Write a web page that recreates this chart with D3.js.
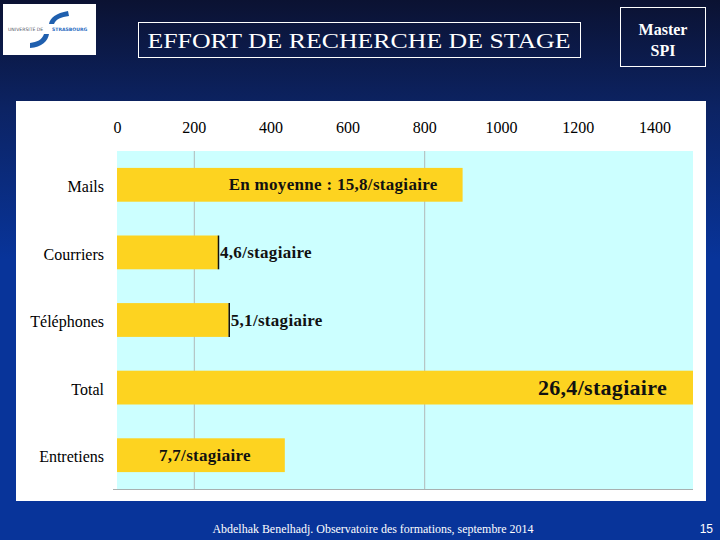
<!DOCTYPE html>
<html>
<head>
<meta charset="utf-8">
<script src="https://cdn.jsdelivr.net/npm/d3@7"></script>
<style>
  html, body { margin: 0; padding: 0; background: #08349a; }
  svg { display: block; }
</style>
</head>
<body>
<svg id="slide" width="720" height="540"></svg>
<script>
  // chart values
  var categories = ["Mails", "Courriers", "Téléphones", "Total", "Entretiens"];
  var values = [900, 263, 291, 1505, 437];
  var barLabels = ["En moyenne : 15,8/stagiaire", "4,6/stagiaire", "5,1/stagiaire", "26,4/stagiaire", "7,7/stagiaire"];
  var tickValues = [0, 200, 400, 600, 800, 1000, 1200, 1400];
  var gridValues = [200, 800];

  var svg = d3.select("#slide");
  var W = 720, H = 540;
  var serif = "'Liberation Serif', 'Times New Roman', serif";

  // background gradient
  var defs = svg.append("defs");
  var grad = defs.append("linearGradient")
    .attr("id", "bg").attr("x1", 0).attr("y1", 0).attr("x2", 0).attr("y2", 1);
  grad.append("stop").attr("offset", "0%").attr("stop-color", "#0b1232");
  grad.append("stop").attr("offset", "20%").attr("stop-color", "#0c2363");
  grad.append("stop").attr("offset", "48%").attr("stop-color", "#08349a");
  grad.append("stop").attr("offset", "100%").attr("stop-color", "#08349a");
  svg.append("rect").attr("width", W).attr("height", H).attr("fill", "url(#bg)");

  // logo
  var logo = svg.append("g");
  logo.append("rect").attr("x", 3).attr("y", 4).attr("width", 93).attr("height", 51).attr("fill", "#fff");
  logo.append("path")
    .attr("d", "M68,11 C56,13 50,18 49,24 L54,24 C56,19 61,17 69,16 Z")
    .attr("fill", "#1f5fae");
  logo.append("path")
    .attr("d", "M30,48 C42,47 48,41 49,34 L44,34 C42,40 37,42 30,43 Z")
    .attr("fill", "#1f5fae");
  logo.append("text").attr("x", 8).attr("y", 30.5)
    .style("font-family", "'DejaVu Sans', sans-serif").attr("font-size", 4.6)
    .attr("fill", "#556").text("UNIVERSITÉ DE ");
  logo.append("text").attr("x", 52).attr("y", 30.5)
    .style("font-family", "'DejaVu Sans', sans-serif").attr("font-size", 4.6).attr("font-weight", "bold")
    .attr("fill", "#2a6bbf").text("STRASBOURG");

  // title box
  svg.append("rect").attr("x", 138.5).attr("y", 22.5).attr("width", 442).attr("height", 35)
    .attr("fill", "none").attr("stroke", "#fff").attr("stroke-width", 1);
  svg.append("text").attr("x", 359).attr("y", 47.5).attr("text-anchor", "middle")
    .style("font-family", serif).attr("font-size", 22).attr("fill", "#fff")
    .attr("textLength", 423).attr("lengthAdjust", "spacingAndGlyphs")
    .text("EFFORT DE RECHERCHE DE STAGE");

  // master box
  svg.append("rect").attr("x", 620.5).attr("y", 7.5).attr("width", 85).attr("height", 59)
    .attr("fill", "none").attr("stroke", "#fff").attr("stroke-width", 1);
  svg.append("text").attr("x", 663).attr("y", 35).attr("text-anchor", "middle")
    .style("font-family", serif).attr("font-size", 16).attr("font-weight", "bold").attr("fill", "#fff")
    .text("Master");
  svg.append("text").attr("x", 663).attr("y", 56).attr("text-anchor", "middle")
    .style("font-family", serif).attr("font-size", 16).attr("font-weight", "bold").attr("fill", "#fff")
    .text("SPI");

  // chart panel
  svg.append("rect").attr("x", 16).attr("y", 101).attr("width", 690).attr("height", 400).attr("fill", "#fff");

  var margin = {top: 151, right: 693, bottom: 489, left: 117};

  var x = d3.scaleLinear()
    .domain([0, 1500])
    .range([margin.left, margin.right])
    .clamp(true);

  var y = d3.scaleBand()
    .domain(categories)
    .range([margin.top, margin.bottom])
    .paddingInner(0.5)
    .paddingOuter(0.25);

  var g = svg.append("g");

  g.append("rect")
    .attr("x", margin.left).attr("y", margin.top)
    .attr("width", margin.right - margin.left).attr("height", margin.bottom - margin.top)
    .attr("fill", "#ccffff");

  g.selectAll(".grid")
    .data(gridValues)
    .enter().append("line")
    .attr("class", "grid")
    .attr("x1", function(d) { return x(d) + 0.5; })
    .attr("x2", function(d) { return x(d) + 0.5; })
    .attr("y1", margin.top).attr("y2", margin.bottom)
    .attr("stroke", "#b0b8b8").attr("stroke-width", 1);

  // bottom axis line
  g.append("line")
    .attr("x1", margin.left - 4).attr("x2", margin.right)
    .attr("y1", margin.bottom + 0.5).attr("y2", margin.bottom + 0.5)
    .attr("stroke", "#a8b0b0").attr("stroke-width", 1);

  // top tick labels
  var axisTop = d3.axisTop(x).tickValues(tickValues).tickFormat(d3.format("d")).tickSize(0).tickPadding(0);
  var ax = g.append("g")
    .attr("transform", "translate(0,133)")
    .call(axisTop);
  ax.select(".domain").remove();
  ax.selectAll("text")
    .style("font-family", serif)
    .attr("font-size", 16).attr("fill", "#000").attr("dy", 0);

  // category labels
  var ay = g.append("g")
    .attr("transform", "translate(" + (margin.left - 13) + ",0)")
    .call(d3.axisLeft(y).tickSize(0).tickPadding(0));
  ay.select(".domain").remove();
  ay.selectAll("text")
    .style("font-family", serif)
    .attr("font-size", 16).attr("fill", "#000")
    .attr("dy", "0.45em");

  // bars
  g.selectAll(".bar")
    .data(categories)
    .enter().append("rect")
    .attr("class", "bar")
    .attr("x", x(0))
    .attr("y", function(d) { return y(d); })
    .attr("width", function(d, i) { return x(values[i]) - x(0); })
    .attr("height", y.bandwidth())
    .attr("fill", "#fdd320");

  // dark edge on the short bars whose label sits outside
  [1, 2].forEach(function(i) {
    g.append("line")
      .attr("x1", x(values[i]) + 0.5).attr("x2", x(values[i]) + 0.5)
      .attr("y1", y(categories[i])).attr("y2", y(categories[i]) + y.bandwidth())
      .attr("stroke", "#111").attr("stroke-width", 1.5);
  });

  // bar labels
  var labelPos = [
    {anchor: "end", at: function(i) { return x(values[i]) - 25; }, size: 17},
    {anchor: "start", at: function(i) { return x(values[i]) + 2; }, size: 17},
    {anchor: "start", at: function(i) { return x(values[i]) + 2; }, size: 17},
    {anchor: "end", at: function(i) { return x(values[i]) - 26; }, size: 22},
    {anchor: "middle", at: function(i) { return (x(0) + x(values[i])) / 2 + 4; }, size: 17}
  ];
  g.selectAll(".lbl")
    .data(categories)
    .enter().append("text")
    .attr("class", "lbl")
    .attr("x", function(d, i) { return labelPos[i].at(i); })
    .attr("y", function(d) { return y(d) + y.bandwidth() / 2; })
    .attr("dy", "0.33em")
    .attr("text-anchor", function(d, i) { return labelPos[i].anchor; })
    .style("font-family", serif)
    .attr("font-weight", "bold")
    .attr("font-size", function(d, i) { return labelPos[i].size; })
    .attr("letter-spacing", 0.3)
    .attr("fill", "#111")
    .text(function(d, i) { return barLabels[i]; });

  // footer
  svg.append("text").attr("x", 373).attr("y", 533).attr("text-anchor", "middle")
    .style("font-family", serif).attr("font-size", 13).attr("fill", "#fff")
    .attr("textLength", 321).attr("lengthAdjust", "spacingAndGlyphs")
    .text("Abdelhak Benelhadj. Observatoire des formations, septembre 2014");
  svg.append("text").attr("x", 713).attr("y", 533).attr("text-anchor", "end")
    .style("font-family", "'Liberation Sans', Arial, sans-serif").attr("font-size", 12).attr("fill", "#fff")
    .text("15");
</script>
</body>
</html>
